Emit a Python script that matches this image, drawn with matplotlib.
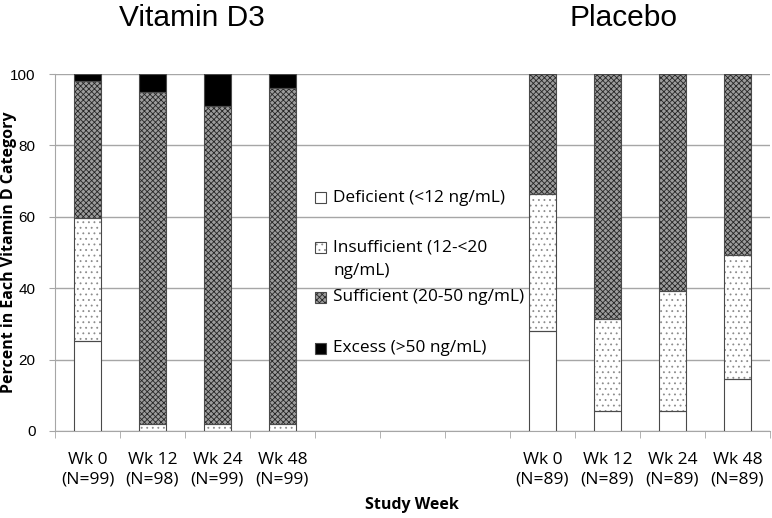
import numpy as np
import matplotlib
matplotlib.use('Agg')
import matplotlib.pyplot as plt
from matplotlib.patches import Rectangle

plt.rcParams['hatch.linewidth'] = 0.6

# data (percent of participants in each category)
groups = ['Vitamin D3', 'Placebo']
week_labels = ['Wk 0', 'Wk 12', 'Wk 24', 'Wk 48']
n_vitd = [99, 98, 99, 99]
n_plac = [89, 89, 89, 89]
categories = ['Deficient (<12 ng/mL)', 'Insufficient (12-<20\nng/mL)',
              'Sufficient (20-50 ng/mL)', 'Excess (>50 ng/mL)']

vitd_deficient = [25.3, 0.0, 0.0, 0.0]
vitd_insufficient = [34.3, 2.0, 2.0, 2.0]
vitd_sufficient = [38.4, 93.0, 89.0, 94.0]
vitd_excess = [2.0, 5.0, 9.0, 4.0]

plac_deficient = [28.1, 5.6, 5.6, 14.6]
plac_insufficient = [38.2, 25.8, 33.7, 34.8]
plac_sufficient = [33.7, 68.6, 60.7, 50.6]
plac_excess = [0.0, 0.0, 0.0, 0.0]

# bar positions: 4 bars, 3 empty slots, 4 bars
pos_vitd = np.arange(4)
pos_plac = np.arange(7, 11)
ncat = 11

# fill colour, hatch, hatch colour for each category
styles = [dict(face='white', hatch=None, hcol='white'),
          dict(face='white', hatch='...', hcol='#8c8c8c'),
          dict(face='#9c9c9c', hatch='xxxxxx', hcol='#262626'),
          dict(face='black', hatch=None, hcol='black')]
outline = '#4a4a4a'
grid_col = '#a6a6a6'
body_font = ['Open Sans', 'DejaVu Sans']
title_font = ['Liberation Sans Narrow', 'Liberation Sans', 'DejaVu Sans']

fig = plt.figure(figsize=(7.72, 5.18), dpi=100)
ax = fig.add_axes([0.0712, 0.168, 0.926, 0.689])

width = 0.41
for pos, series in [(pos_vitd, [vitd_deficient, vitd_insufficient, vitd_sufficient, vitd_excess]),
                    (pos_plac, [plac_deficient, plac_insufficient, plac_sufficient, plac_excess])]:
    bottom = np.zeros(4)
    for vals, st in zip(series, styles):
        vals = np.array(vals)
        # filled + hatched layer, then the outline on top
        ax.bar(pos, vals, width, bottom=bottom, color=st['face'], hatch=st['hatch'],
               edgecolor=st['hcol'], linewidth=0, zorder=3)
        ax.bar(pos, vals, width, bottom=bottom, fill=False,
               edgecolor=outline, linewidth=0.8, zorder=4)
        bottom += vals

# axes styling
ax.set_xlim(-0.5, ncat - 0.5)
ax.set_ylim(0, 100)
ax.set_yticks([0, 20, 40, 60, 80, 100])
ax.yaxis.grid(True, color=grid_col, linewidth=1.0, zorder=0)
ax.set_axisbelow(True)
for s in ['top', 'right']:
    ax.spines[s].set_visible(False)
ax.spines['left'].set_color(grid_col)
ax.spines['bottom'].set_color(grid_col)
ax.tick_params(axis='y', length=4, color=grid_col, labelsize=11, pad=10)
for lab in ax.get_yticklabels():
    lab.set_family(title_font)

xt = list(pos_vitd) + list(pos_plac)
xl = [f'{w}\n(N={n})' for w, n in zip(week_labels, n_vitd)] + \
     [f'{w}\n(N={n})' for w, n in zip(week_labels, n_plac)]
ax.set_xticks(xt)
ax.set_xticklabels(xl, family=body_font, fontsize=12.5, linespacing=1.3)
ax.tick_params(axis='x', length=0, pad=15)
ax.set_xticks(np.arange(-0.5, ncat + 0.5), minor=True)
ax.tick_params(axis='x', which='minor', length=5, color=grid_col, direction='out')

ax.set_xlabel('Study Week', family=body_font, fontweight='bold', fontsize=11.5, labelpad=7)
ax.set_ylabel('Percent in Each Vitamin D Category', family=body_font,
              fontweight='bold', fontsize=11.5)
ax.yaxis.set_label_coords(-0.053, 0.5)

# group titles
fig.text(192 / 772, 1 - 18 / 518, groups[0], ha='center', va='center', fontsize=21.5,
         family=title_font)
fig.text(624 / 772, 1 - 18 / 518, groups[1], ha='center', va='center', fontsize=21.5,
         family=title_font)

# legend drawn by hand in the middle gap
leg_y = [0.653, 0.515, 0.375, 0.232]
line_step = 0.067
for cat, st, y in zip(categories, styles, leg_y):
    ax.add_patch(Rectangle((0.364, y - 0.0155), 0.0154, 0.031, transform=ax.transAxes,
                           facecolor=st['face'], hatch=st['hatch'], edgecolor=st['hcol'],
                           linewidth=0, zorder=4, clip_on=False))
    ax.add_patch(Rectangle((0.364, y - 0.0155), 0.0154, 0.031, transform=ax.transAxes,
                           fill=False, edgecolor=outline, linewidth=0.8, zorder=5,
                           clip_on=False))
    for i, line in enumerate(cat.split('\n')):
        ax.text(0.389, y - i * line_step, line, transform=ax.transAxes,
                va='center', ha='left', fontsize=12.4, family=body_font, zorder=5)

fig.savefig('out.png', dpi=100)
